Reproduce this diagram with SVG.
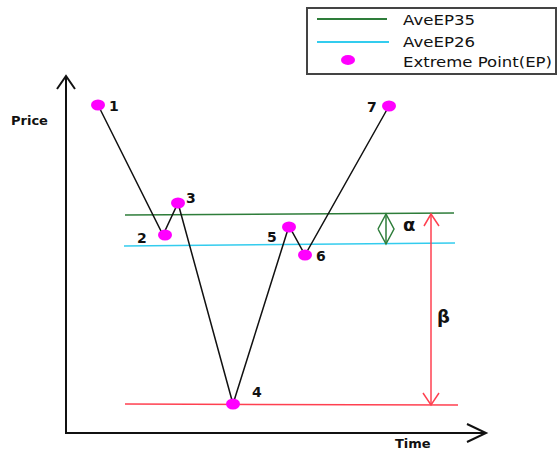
<svg xmlns="http://www.w3.org/2000/svg" width="558" height="450" viewBox="0 0 558 450">
<style>
.lbl{font-family:"DejaVu Sans",Verdana,sans-serif;font-weight:bold;font-size:13px;fill:#111}
.num{font-size:14px}
.gk{font-size:18px}
.leg{font-family:"DejaVu Sans",Verdana,sans-serif;font-size:14px;fill:#111}
.pt{fill:#ff00ff}
.ax{stroke:#111;stroke-width:2;fill:none}
</style>
<rect width="558" height="450" fill="#fff"/>
<g id="legend">
<rect x="307" y="8" width="249" height="66" fill="#fff" stroke="#444" stroke-width="2"/>
<line x1="317" y1="19" x2="387" y2="19" stroke="#2e7d3a" stroke-width="2"/>
<text class="leg" x="403" y="25" textLength="72" lengthAdjust="spacingAndGlyphs">AveEP35</text>
<line x1="317" y1="42" x2="389" y2="42" stroke="#33ccee" stroke-width="2"/>
<text class="leg" x="403" y="47" textLength="72" lengthAdjust="spacingAndGlyphs">AveEP26</text>
<ellipse class="pt" cx="348" cy="60" rx="7" ry="5"/>
<text class="leg" x="403" y="67" textLength="149" lengthAdjust="spacingAndGlyphs">Extreme Point(EP)</text>
</g>
<g id="axes">
<polyline class="ax" points="66,76 66,433 486,433"/>
<polyline class="ax" points="57,89 66,76 75,89"/>
<polyline class="ax" points="467,424 486,433 467,442"/>
<text class="lbl" x="11" y="125">Price</text>
<text class="lbl" x="395" y="448">Time</text>
</g>
<g id="levels">
<line x1="125" y1="215" x2="454" y2="213" stroke="#2e7d3a" stroke-width="1.5"/>
<line x1="124" y1="246" x2="455" y2="243" stroke="#33ccee" stroke-width="1.5"/>
<line x1="125" y1="404" x2="458" y2="405" stroke="#ff4050" stroke-width="1.5"/>
</g>
<g id="connectors">
<polyline points="98,105 163,235 178,203 233,404 289,226 305,255 389,106" fill="none" stroke="#111" stroke-width="1.5"/>
</g>
<g id="alpha">
<line x1="386" y1="214" x2="386" y2="244" stroke="#2e7d3a" stroke-width="1.5"/>
<polyline points="378,229 386,214 394,229 386,244 378,229" fill="none" stroke="#2e7d3a" stroke-width="1.5"/>
<text class="lbl gk" x="403" y="231">α</text>
</g>
<g id="beta">
<line x1="431" y1="214" x2="431" y2="405" stroke="#ff4050" stroke-width="1.5"/>
<polyline points="424,226 431,214 439,226" fill="none" stroke="#ff4050" stroke-width="1.5"/>
<polyline points="423,393 431,405 439,393" fill="none" stroke="#ff4050" stroke-width="1.5"/>
<text class="lbl gk" x="437" y="323">β</text>
</g>
<g id="p1"><ellipse class="pt" cx="98" cy="105" rx="7" ry="5.5"/><text class="lbl num" x="109" y="111">1</text></g>
<g id="p2"><ellipse class="pt" cx="165" cy="235" rx="7" ry="5.5"/><text class="lbl num" x="137" y="243">2</text></g>
<g id="p3"><ellipse class="pt" cx="178" cy="203" rx="7" ry="5.5"/><text class="lbl num" x="186" y="203">3</text></g>
<g id="p4"><ellipse class="pt" cx="233" cy="404" rx="7" ry="5.5"/><text class="lbl num" x="252" y="397">4</text></g>
<g id="p5"><ellipse class="pt" cx="289" cy="227" rx="7" ry="5.5"/><text class="lbl num" x="267" y="242">5</text></g>
<g id="p6"><ellipse class="pt" cx="305" cy="255" rx="7" ry="5.5"/><text class="lbl num" x="316" y="261">6</text></g>
<g id="p7"><ellipse class="pt" cx="389" cy="106" rx="7" ry="5.5"/><text class="lbl num" x="367" y="112">7</text></g>
</svg>
